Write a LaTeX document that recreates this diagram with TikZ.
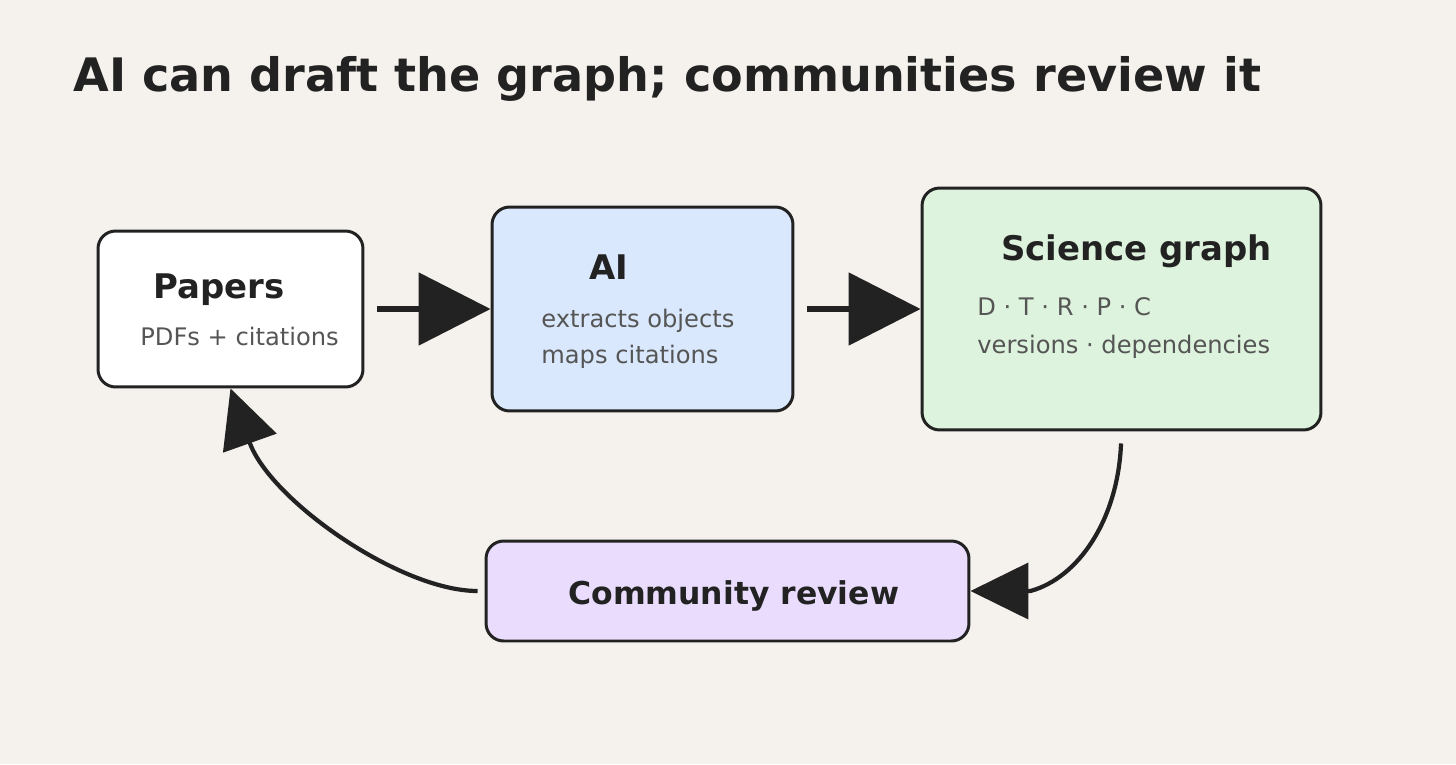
\documentclass[tikz,border=0pt]{standalone}
\usepackage{fontspec}
\setmainfont{DejaVu Sans}
\usepackage{xcolor}
\usetikzlibrary{positioning, arrows.meta, calc}

\definecolor{paper}{HTML}{F5F2ED}
\definecolor{ink}{HTML}{222222}
\definecolor{subgray}{HTML}{555555}
\definecolor{aiblue}{HTML}{D9E8FC}
\definecolor{graphgreen}{HTML}{DDF3DD}
\definecolor{reviewlilac}{HTML}{E9DCFD}

\begin{document}
\begin{tikzpicture}[
    x=0.02cm, y=-0.02cm,
    % ---- boxes ----
    card/.style={
        draw=ink,
        line width=1.7pt,
        rounded corners=10pt,
        inner sep=0pt
    },
    % ---- box headings ----
    head/.style={
        font=\fontsize{19.3}{23}\selectfont\bfseries,
        text=ink,
        anchor=base west,
        inner sep=0pt
    },
    % ---- small grey lines ----
    sub/.style={
        font=\fontsize{13.75}{16}\selectfont,
        text=subgray,
        anchor=base west,
        inner sep=0pt
    },
    % ---- connectors ----
    flow/.style={line width=3.1pt, draw=ink,
        -{Triangle[length=1.44cm, width=1.44cm]}},
    cycle/.style={line width=2.4pt, draw=ink,
        -{Triangle[length=1.16cm, width=1.12cm]}}
]

% ---- canvas ----
\fill[paper] (0,0) rectangle (1456,764);
\useasboundingbox (0,0) rectangle (1456,764);

% ---- title ----
\node[anchor=base west, inner sep=0pt, text=ink,
      font=\fontsize{26.25}{30}\selectfont\bfseries] (Title) at (73,91)
    {AI can draft the graph; communities review it};

% ---------- boxes ----------
\node[card, fill=white, minimum width=5.3cm, minimum height=3.12cm]
    (Papers) at (230.5,309) {};
\node[card, fill=aiblue, minimum width=6.02cm, minimum height=4.08cm]
    (AI) at (642.5,309) {};
\node[card, fill=graphgreen, minimum width=7.98cm, minimum height=4.84cm]
    (Graph) at (1121.5,309) {};
\node[card, fill=reviewlilac, minimum width=9.66cm, minimum height=2.0cm]
    (Review) at (727.5,591) {};

% ---------- texts ----------
\node[head] (PapersHead) at (153,298) {Papers};
\node[sub]  (PapersSub)  at (140,345) {PDFs + citations};

\node[head] (AIHead) at (589,279) {AI};
\node[sub]  (AISubA) at (541,327) {extracts objects};
\node[sub]  (AISubB) at (541,363) {maps citations};

\node[head] (GraphHead) at (1001,260) {Science graph};
\node[sub]  (GraphSubA) at (977,315) {D · T · R · P · C};
\node[sub]  (GraphSubB) at (977,353) {versions · dependencies};

\node[head, font=\fontsize{17.9}{21}\selectfont\bfseries]
    (ReviewHead) at (568,604) {Community review};

% ============================================================
%  CONNECTORS
% ============================================================

% papers -> AI
\draw[flow, shorten <=0.26cm] (Papers.east) -- (AI.west);

% AI -> science graph
\draw[flow, shorten <=0.26cm] (AI.east) -- (Graph.west);

% science graph -> community review
\draw[cycle, shorten <=0.24cm] (Graph.south)
    .. controls (1118,520) and (1078,578) .. ($(Review.east)+(60,0)$)
    -- (Review.east);

% community review -> papers
\draw[cycle, shorten <=0.14cm] (Review.west)
    .. controls (400,591) and (270,500) .. (Papers.south);

\end{tikzpicture}
\end{document}
